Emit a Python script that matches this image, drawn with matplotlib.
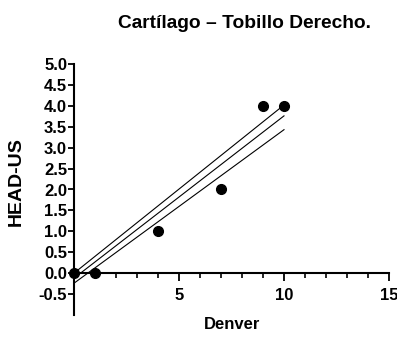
#! /usr/bin/env python

import numpy as np
import matplotlib.pyplot as plt
import matplotlib
from matplotlib.ticker import MultipleLocator

matplotlib.rcParams['font.family'] = ['Liberation Sans', 'DejaVu Sans']
matplotlib.rcParams['font.weight'] = 'bold'

# data points (Denver vs HEAD-US)
denver = [0, 1, 4, 7, 9, 10]
head_us = [0, 0, 1, 2, 4, 4]

# regression line and band edges
line_x = [0, 10]
fit_y = [-0.12, 3.76]
upper_y = [0.0, 4.02]
lower_y = [-0.24, 3.43]

W, H = 397, 337
fig = plt.figure(figsize=[W/100, H/100], dpi=100)
ax = fig.add_axes([74/W, 1 - 315/H, (389 - 74)/W, (315 - 64)/H])

ax.plot(line_x, upper_y, color='k', lw=0.8)
ax.plot(line_x, fit_y, color='k', lw=0.8)
ax.plot(line_x, lower_y, color='k', lw=0.8)
ax.plot(denver, head_us, 'o', color='k', ms=7, clip_on=False, zorder=5)

ax.set_xlim(0, 15)
ax.set_ylim(-1.0, 5.0)

# prism style axes: x axis sits at y=0
ax.spines['top'].set_visible(False)
ax.spines['right'].set_visible(False)
ax.spines['bottom'].set_position(('data', 0))
for s in ['left', 'bottom']:
    ax.spines[s].set_linewidth(1.5)

yt = np.arange(-0.5, 5.01, 0.5)
ax.set_xticks([5, 10, 15])
ax.xaxis.set_minor_locator(MultipleLocator(1))
ax.set_yticks(yt)
ax.set_yticklabels(['%.1f' % v for v in yt])
ax.tick_params(axis='both', which='major', width=1.3, labelsize=12)
ax.tick_params(axis='y', which='major', length=4.5, pad=0.5)
ax.tick_params(axis='x', which='major', length=6, pad=5)
ax.tick_params(axis='x', which='minor', length=3.5, width=1.2)
for lab in ax.get_xticklabels() + ax.get_yticklabels():
    lab.set_fontweight('bold')

fig.text(232/W, 1 - 329/H, 'Denver', ha='center', va='baseline',
         fontsize=12, fontweight='bold')
fig.text(16.5/W, 1 - 182/H, 'HEAD-US', ha='center', va='center', rotation=90,
         fontsize=14, fontweight='bold')
fig.text(245/W, 1 - 28/H, 'Cartílago – Tobillo Derecho.', ha='center', va='baseline',
         fontsize=13.8, fontweight='bold')

plt.savefig('out.png', dpi=100)
plt.close()
